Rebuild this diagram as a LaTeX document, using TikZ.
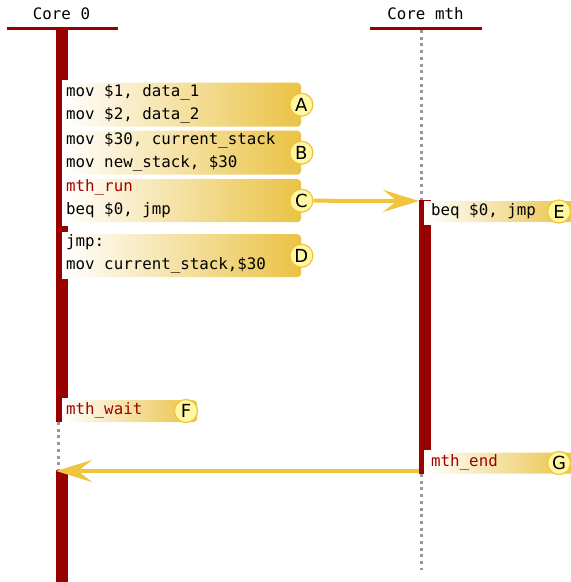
\documentclass[tikz,border=0pt]{standalone}
\usepackage{fontspec}
\setmainfont{DejaVu Sans}
\setmonofont{DejaVu Sans Mono}
\usetikzlibrary{arrows.meta}
\definecolor{barred}{HTML}{990000}
\definecolor{txtred}{HTML}{A00000}
\definecolor{gold}{HTML}{EAC244}
\definecolor{arrgold}{HTML}{F0C43C}
\definecolor{circfill}{HTML}{FFF8A0}
\definecolor{circline}{HTML}{F0C43C}
\definecolor{dotgray}{HTML}{999999}
\begin{document}
\begin{tikzpicture}[x=1pt,y=-1pt,
  mono/.style={font=\fontsize{15.8}{18}\ttfamily, inner sep=0pt, anchor=west, text height=11pt, text depth=3.5pt},
  redtxt/.style={mono, text=txtred},
  hdr/.style={font=\fontsize{15.8}{18}\ttfamily, inner sep=0pt},
  hdrline/.style={draw=barred, line width=3pt},
  lifedot/.style={draw=dotgray, line width=3pt, dash pattern=on 3pt off 3.7pt},
  actbar/.style={fill=barred},
  cover/.style={fill=white},
  codebox/.style={left color=white, right color=gold, rounded corners=4pt, inner sep=0pt, anchor=north west},
  letter/.style={circle, fill=circfill, draw=circline, line width=1.2pt, minimum size=23pt, inner sep=0pt, font=\fontsize{18}{18}\selectfont},
  msg/.style={draw=arrgold, line width=4pt, -{Stealth[length=36pt, width=22pt, inset=14pt]}}
]
\useasboundingbox (0,0) rectangle (571,582);

% headers
\node[hdr] (h0) at (61.5,14) {Core 0};
\node[hdr] (hm) at (425.5,14) {Core mth};
\coordinate (h0l) at (7,28);  \coordinate (h0r) at (118,28);
\coordinate (hml) at (370,28); \coordinate (hmr) at (482,28);

% lifelines (dotted)
\draw[lifedot] (58,422) -- (58,470);
\draw[lifedot] (421.5,30) -- (421.5,200);
\draw[lifedot] (421.5,474) -- (421.5,570);

% activity bars
\fill[actbar] (55.5,28) rectangle (68,422);
\fill[actbar] (55.5,470) rectangle (68,590);
\fill[actbar] (419,200) rectangle (431,473.5);

\draw[hdrline] (h0l) -- (h0r);
\draw[hdrline] (hml) -- (hmr);

% covers over bars
\fill[cover] (62,80) rectangle (70,226);
\fill[cover] (62,232) rectangle (70,279);
\fill[cover] (62,398) rectangle (70,423);
\fill[cover] (423.5,201) rectangle (433,225);
\fill[cover] (423.5,450) rectangle (433,474);

% boxes
\node[codebox, minimum width=239pt, minimum height=44pt] (bA) at (62,82.5) {};
\node[codebox, minimum width=239pt, minimum height=44pt] (bB) at (62,130.5) {};
\node[codebox, minimum width=239pt, minimum height=43pt] (bC) at (62,179) {};
\node[codebox, minimum width=239pt, minimum height=43pt] (bD) at (62,234) {};
\node[codebox, minimum width=152pt, minimum height=21pt] (bE) at (424.5,201) {};
\node[codebox, minimum width=135pt, minimum height=22pt] (bF) at (62,400) {};
\node[codebox, minimum width=152pt, minimum height=21pt] (bG) at (424.5,452.5) {};

% texts
\node[mono] (tA1) at (66,93) {mov \$1, data\_1};
\node[mono] (tA2) at (66,116) {mov \$2, data\_2};
\node[mono] (tB1) at (66,141) {mov \$30, current\_stack};
\node[mono] (tB2) at (66,164) {mov new\_stack, \$30};
\node[redtxt] (tC1) at (66,188) {mth\_run};
\node[mono] (tC2) at (66,211) {beq \$0, jmp};
\node[mono] (tD1) at (66,243) {jmp:};
\node[mono] (tD2) at (66,266) {mov current\_stack,\$30};
\node[mono] (tE) at (431,212) {beq \$0, jmp};
\node[redtxt] (tF) at (66,411) {mth\_wait};
\node[redtxt] (tG) at (431,463) {mth\_end};

% letter circles
\node[letter] (cA) at (bA.east) {A};
\node[letter] (cB) at (bB.east) {B};
\node[letter] (cC) at (bC.east) {C};
\node[letter] (cD) at (bD.east) {D};
\node[letter] (cE) at (559,211.5) {E};
\node[letter] (cF) at (186,411) {F};
\node[letter] (cG) at (559,463) {G};

% messages
\coordinate (mthTop) at (419,201);
\coordinate (mthEnd) at (419,471);
\coordinate (c0Back) at (56,471);
\draw[msg] (cC.east) -- (mthTop);
\draw[msg] (mthEnd) -- (c0Back);
\end{tikzpicture}
\end{document}
